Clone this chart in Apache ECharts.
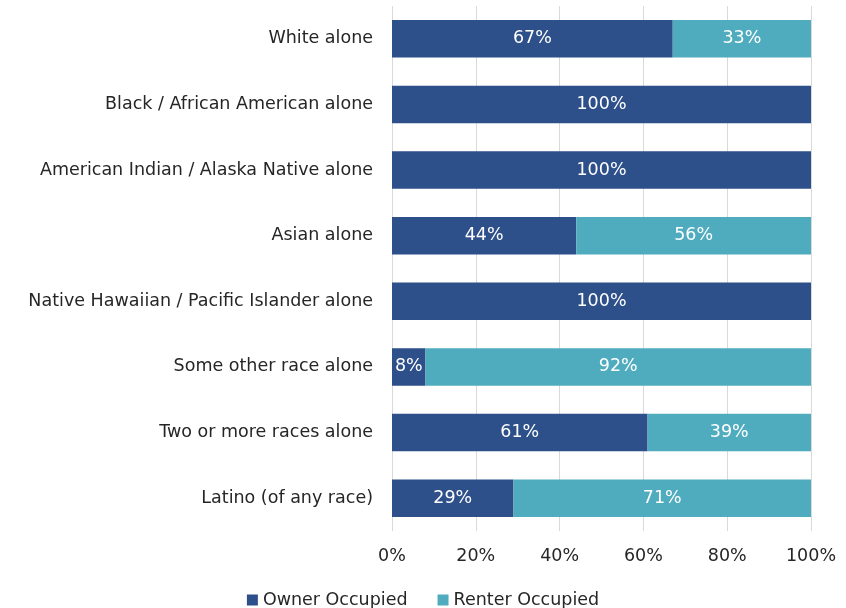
<!DOCTYPE html>
<html><head><meta charset="utf-8">
<script src="https://cdn.jsdelivr.net/npm/echarts@6/dist/echarts.min.js"></script>
<style>html,body{margin:0;padding:0;background:#fff}#c{width:846px;height:608px}</style>
</head><body><div id="c"></div>
<script>
var categories = ["White alone","Black / African American alone","American Indian / Alaska Native alone","Asian alone","Native Hawaiian / Pacific Islander alone","Some other race alone","Two or more races alone","Latino (of any race)"];
var ownerOccupied = [67,100,100,44,100,8,61,29];
var renterOccupied = [33,0,0,56,0,92,39,71];
var xTicks = [0,20,40,60,80,100];

var FONT = "DejaVu Sans";
var FS = 17.5;
var chart = echarts.init(document.getElementById('c'));
function lbl(p){ return p.value > 0 ? p.value + '%' : ''; }
chart.setOption({
  animation:false,
  textStyle:{fontFamily:FONT},
  grid:{left:392,right:35,top:6,bottom:77},
  legend:{top:586,left:'center',itemWidth:11,itemHeight:11,itemGap:30,icon:'rect',
    textStyle:{fontSize:FS,color:'#262626',fontFamily:FONT},
    data:['Owner Occupied','Renter Occupied']},
  xAxis:{type:'value',min:0,max:100,interval:20,
    axisLine:{show:false},axisTick:{show:false},
    splitLine:{show:true,lineStyle:{color:'#d9d9d9',width:1}},
    axisLabel:{formatter:function(v){return v+'%';},fontSize:FS,color:'#262626',margin:16,fontFamily:FONT}},
  yAxis:{type:'category',inverse:true,data:categories,
    axisLine:{show:false},axisTick:{show:false},
    axisLabel:{fontSize:FS,color:'#262626',margin:19,fontFamily:FONT}},
  series:[
    {name:'Owner Occupied',type:'bar',stack:'a',barWidth:'57%',data:ownerOccupied,
      itemStyle:{color:'#2D4F8A'},
      label:{show:true,position:'inside',color:'#fff',fontSize:FS,formatter:lbl,fontFamily:FONT}},
    {name:'Renter Occupied',type:'bar',stack:'a',barWidth:'57%',data:renterOccupied,
      itemStyle:{color:'#4FACBE'},
      label:{show:true,position:'inside',color:'#fff',fontSize:FS,formatter:lbl,fontFamily:FONT}}
  ]
});
</script></body></html>
